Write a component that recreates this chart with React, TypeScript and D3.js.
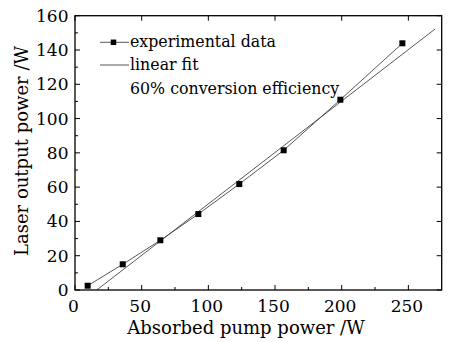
import React from "react";
import * as d3 from "d3";

const pumpPower = [9.5, 35.8, 64, 92.5, 123.2, 156.5, 199, 245.5];
const outputPower = [2.5, 15.0, 29, 44.3, 61.8, 81.5, 111, 143.9];
const fitX = [16.3, 270];
const fitSlope = 0.6;
const xTicks = [0, 50, 100, 150, 200, 250];
const yTicks = [0, 20, 40, 60, 80, 100, 120, 140, 160];
const legendLabels = ["experimental data", "linear fit", "60% conversion efficiency"];

const W = 449, H = 342;
const m = { left: 75, right: 441.7, top: 15.7, bottom: 290 };
const FONT = "DejaVu Serif";

export default function App() {
  const x = d3.scaleLinear().domain([0, 275]).range([m.left, m.right]);
  const y = d3.scaleLinear().domain([0, 160]).range([m.bottom, m.top]);
  const dataLine = d3.line<number>().x((_, i) => x(pumpPower[i])).y((d) => y(d))(outputPower) || "";
  const fitLine = d3.line<number>().x((d) => x(d)).y((d) => y(fitSlope * (d - fitX[0])))(fitX) || "";
  const xMinor = d3.range(25, 275, 50);
  const yMinor = d3.range(10, 160, 20);
  const ms = 6;
  const stroke = "#444";
  const legendY = [42.3, 65, 89.3];
  return (
    <svg width={W} height={H} style={{ position: "absolute", left: 0, top: 0, background: "#fff" }}>
      <rect x={0} y={0} width={W} height={H} fill="#fff" />
      {xTicks.map((t) => (
        <g key={"xt" + t}>
          <line x1={x(t)} x2={x(t)} y1={m.bottom} y2={m.bottom - 5} stroke="#000" strokeWidth={1} />
          <line x1={x(t)} x2={x(t)} y1={m.top} y2={m.top + 5} stroke="#000" strokeWidth={1} />
          <text x={x(t) - 1.5} y={311.5} textAnchor="middle" fontFamily={FONT} fontSize={17} fill="#000">{t}</text>
        </g>
      ))}
      {xMinor.map((t) => (
        <line key={"xm" + t} x1={x(t)} x2={x(t)} y1={m.bottom} y2={m.bottom - 3} stroke="#000" strokeWidth={1} />
      ))}
      {yTicks.map((t) => (
        <g key={"yt" + t}>
          <line x1={m.left} x2={m.left + 5} y1={y(t)} y2={y(t)} stroke="#000" strokeWidth={1} />
          <line x1={m.right} x2={m.right - 5} y1={y(t)} y2={y(t)} stroke="#000" strokeWidth={1} />
          <text x={68.5} y={y(t) + 6} textAnchor="end" fontFamily={FONT} fontSize={17} fill="#000">{t}</text>
        </g>
      ))}
      {yMinor.map((t) => (
        <line key={"ym" + t} x1={m.left} x2={m.left + 3} y1={y(t)} y2={y(t)} stroke="#000" strokeWidth={1} />
      ))}
      <defs>
        <clipPath id="plot">
          <rect x={m.left} y={m.top} width={m.right - m.left} height={m.bottom - m.top} />
        </clipPath>
      </defs>
      <g clipPath="url(#plot)">
        <path d={fitLine} fill="none" stroke={stroke} strokeWidth={0.9} />
        <path d={dataLine} fill="none" stroke={stroke} strokeWidth={0.9} />
        {pumpPower.map((p, i) => (
          <rect key={i} x={x(p) - ms / 2} y={y(outputPower[i]) - ms / 2} width={ms} height={ms} fill="#000" />
        ))}
      </g>
      <rect x={m.left} y={m.top} width={m.right - m.left} height={m.bottom - m.top} fill="none" stroke="#000" strokeWidth={1.3} />
      <line x1={100} x2={129} y1={legendY[0]} y2={legendY[0]} stroke={stroke} strokeWidth={0.9} />
      <rect x={113.5 - 2.75} y={legendY[0] - 2.75} width={5.5} height={5.5} fill="#000" />
      <line x1={100} x2={129} y1={legendY[1]} y2={legendY[1]} stroke={stroke} strokeWidth={0.9} />
      {legendLabels.map((l, i) => (
        <text key={l} x={130} y={legendY[i] + 5} fontFamily={FONT} fontSize={15.8} fill="#000">{l}</text>
      ))}
      <text x={246} y={334} textAnchor="middle" fontFamily={FONT} fontSize={18} fill="#000">Absorbed pump power /W</text>
      <text transform={`translate(28,${(255 + 47) / 2}) rotate(-90)`} textAnchor="middle" fontFamily={FONT} fontSize={18} fill="#000">Laser output power /W</text>
    </svg>
  );
}
